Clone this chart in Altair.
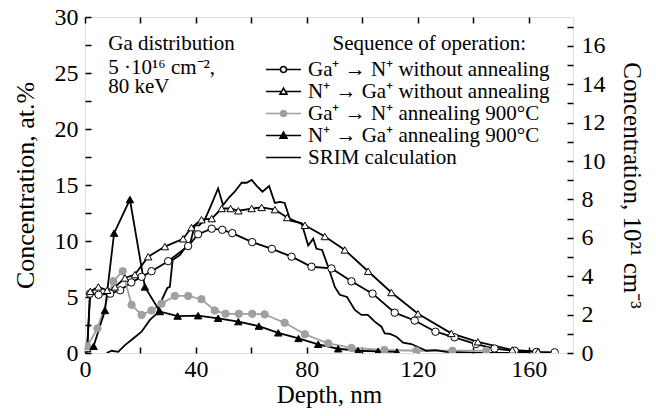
import altair as alt
import pandas as pd

FONT = "Liberation Serif"

# ---------------- data ----------------
names = [
    "Ga⁺ → N⁺ without annealing",
    "N⁺ → Ga⁺ without annealing",
    "Ga⁺ → N⁺ annealing 900°C",
    "N⁺ → Ga⁺ annealing 900°C",
    "SRIM calculation",
]

oc_x = [0.8, 1.8, 4.9, 9.1, 12.7, 16.7, 20.4, 24.0, 30.0, 37.2, 40.8, 45.7, 49.5, 53.1, 60.3, 67.4,
        74.5, 81.7, 88.9, 96.1, 103.7, 111.7, 118.9, 126.4, 133.3, 141.0, 147.7, 155.0, 162.8, 169.4]
oc_y = [0.4, 5.3, 5.2, 5.3, 5.6, 6.3, 6.8, 7.3, 8.2, 9.55, 10.6, 11.1, 11.0, 10.7, 9.9, 9.3,
        8.6, 7.7, 7.55, 6.4, 5.3, 3.6, 2.9, 1.9, 1.4, 0.8, 0.4, 0.2, 0.1, 0.06]

ot_x = [0.8, 1.9, 4.8, 8.0, 10.8, 14.4, 18.0, 22.8, 28.8, 35.4, 38.4, 42.0, 45.7, 49.3, 52.5, 55.3,
        60.1, 63.7, 68.5, 72.9, 79.3, 86.5, 93.7, 102.1, 110.5, 120.1, 132.1, 141.7, 154.1, 163.4]
ot_y = [0.4, 5.5, 5.9, 5.6, 5.9, 6.7, 7.0, 8.6, 9.5, 10.2, 11.2, 11.9, 12.0, 12.9, 12.9, 12.7,
        12.9, 13.0, 12.8, 12.1, 11.4, 10.4, 9.2, 7.3, 5.4, 3.5, 1.75, 1.0, 0.27, 0.12]

gc_x = [0.8, 4.5, 10.2, 13.6, 16.8, 20.4, 24.0, 27.6, 32.4, 37.2, 42.0, 46.8, 50.7, 55.5, 60.3, 64.8,
        72.0, 79.3, 87.7, 96.1, 108.0, 119.5, 132.5, 144.7]
gc_y = [0.6, 2.2, 6.4, 7.3, 4.3, 3.4, 3.8, 4.4, 5.1, 5.1, 4.8, 3.8, 3.5, 3.5, 3.5, 3.45,
        2.7, 1.67, 0.86, 0.45, 0.27, 0.2, 0.2, 0.2]

bt_x = [3.1, 7.2, 10.5, 16.2, 21.6, 27.0, 33.4, 40.8, 48.0, 55.3, 62.7, 69.7, 77.0, 84.1, 91.3,
        98.5, 105.7, 112.5]
bt_y = [0.6, 3.8, 10.7, 13.7, 5.9, 3.7, 3.3, 3.33, 3.1, 2.8, 2.4, 1.8, 1.3, 0.78, 0.38,
        0.2, 0.15, 0.1]

srim_x = [7.8, 9.6, 12.0, 14.4, 17.4, 20.4, 23.4, 25.8, 28.0, 29.7, 30.6, 31.6, 34.2, 36.4, 38.1,
          39.6, 41.2, 43.2, 45.5, 48.0, 49.8, 52.0, 54.0, 56.5, 58.3, 60.1, 62.0, 64.0, 66.4, 68.5,
          70.3, 72.0, 74.1, 76.0, 78.1, 80.5, 82.3, 83.5, 85.5, 87.7, 90.1, 91.9, 94.5, 97.3, 99.7,
          102.0, 104.5, 106.9, 108.1, 110.0, 112.3, 114.7, 117.7, 120.7, 123.1, 126.5, 130.3, 135.0,
          140.0, 150.0, 160.0]
srim_y = [0.0, 0.2, 0.1, 0.7, 1.3, 1.9, 2.95, 3.5, 4.9, 5.8, 5.9, 8.3, 8.75, 9.5, 9.95,
          11.4, 11.4, 11.9, 13.2, 14.7, 13.2, 13.9, 14.4, 15.2, 15.2, 15.45, 14.9, 14.4, 14.9, 13.4,
          13.5, 13.4, 11.8, 11.7, 11.6, 9.6, 10.2, 9.3, 9.2, 7.7, 5.9, 5.2, 5.0, 3.84, 3.4,
          3.4, 2.8, 2.35, 1.75, 1.7, 1.46, 0.92, 0.8, 0.47, 0.2, 0.25, 0.1, 0.05,
          0.0, 0.0, 0.0]

series_xy = [(oc_x, oc_y), (ot_x, ot_y), (gc_x, gc_y), (bt_x, bt_y), (srim_x, srim_y)]

note_lines = ["Ga distribution", "5 ·10¹⁶ cm⁻²,", "80 keV"]
note_x = [8.4, 8.4, 8.4]
note_y = [27.05, 24.9, 23.2]
legend_title = ["Sequence of operation:"]
legend_title_x = [124.2]
legend_title_y = [27.05]

x_ticks = list(range(0, 161, 20))
yl_ticks = [i * 2.5 for i in range(13)]
yr_ticks = list(range(0, 18))

# ---------------- styling ----------------
line_colors = ["black", "black", "#a0a0a0", "black", "black"]
pt_shapes = ["circle", "triangle-up", "circle", "triangle-up", "circle"]
pt_fill = ["white", "white", "#a0a0a0", "black", "black"]
pt_stroke = ["black", "black", "#a0a0a0", "black", "black"]

circ = "M0.29,0 A0.29,0.29 0 1,1 -0.29,0 A0.29,0.29 0 1,1 0.29,0 Z"
tri = "M0,-0.33 L0.33,0.25 L-0.33,0.25 Z"
seg_c = "M-1.67,0 L-0.29,0 M0.29,0 L1.67,0 "
seg_t = "M-1.67,0 L-0.22,0 M0.22,0 L1.67,0 "
leg_shapes = [seg_c + circ, seg_t + tri, seg_c + circ, seg_t + tri, "M-1.67,0 L1.67,0"]
leg_fill = ["white", "white", "#a0a0a0", "black", "transparent"]
leg_stroke = ["black", "black", "#a0a0a0", "black", "black"]

# ---------------- tables ----------------
rows = []
for name, (xs, ys) in zip(names, series_xy):
    for xv, yv in zip(xs, ys):
        rows.append({"series": name, "depth": xv, "conc": yv})
df = pd.DataFrame(rows)
df_pts = df[df["series"] != names[4]]

leg_df = pd.DataFrame({"series": names, "depth": [-10] * 5, "conc": [-10] * 5})
note_df = pd.DataFrame({"t": note_lines, "depth": note_x, "conc": note_y})
title_df = pd.DataFrame({"t": legend_title, "depth": legend_title_x, "conc": legend_title_y})
ax_df = pd.DataFrame({"depth": [-10], "conc2": [-10]})

# ---------------- encodings ----------------
tick_common = dict(domain=False, grid=False, tickColor="black", tickWidth=1.5, tickSize=6,
                   offset=-6, labelFont=FONT, labelFontSize=24, labelColor="black",
                   titleFont=FONT, titleFontWeight="normal", titleColor="black")

xenc = alt.X("depth:Q", scale=alt.Scale(domain=[0, 176], nice=False, zero=False),
             axis=alt.Axis(orient="bottom", values=x_ticks, title="Depth, nm",
                           labelExpr="datum.value % 40 == 0 ? datum.label : ''",
                           labelPadding=4, labelFlush=False, labelOverlap=False,
                           titleFontSize=25, titleBaseline="alphabetic", titleY=55,
                           **tick_common))
yenc = alt.Y("conc:Q", scale=alt.Scale(domain=[0, 30], nice=False),
             axis=alt.Axis(orient="left", values=yl_ticks, title="Concentration, at.%",
                           labelExpr="datum.value % 5 == 0 ? datum.label : ''",
                           labelPadding=7, titlePadding=16, labelFlush=False, labelOverlap=False,
                           titleFontSize=26, **tick_common))

lines = alt.Chart(df).mark_line(clip=True, strokeWidth=1.8).encode(
    x=xenc, y=yenc, detail="series:N", order="depth:Q",
    color=alt.Color("series:N", scale=alt.Scale(domain=names, range=line_colors), legend=None),
)

pts = alt.Chart(df_pts).mark_point(filled=True, opacity=1, size=55, strokeWidth=1, clip=True).encode(
    x=xenc, y=yenc,
    shape=alt.Shape("series:N", scale=alt.Scale(domain=names, range=pt_shapes), legend=None),
    fill=alt.Fill("series:N", scale=alt.Scale(domain=names, range=pt_fill), legend=None),
    stroke=alt.Stroke("series:N", scale=alt.Scale(domain=names, range=pt_stroke), legend=None),
)

leg = alt.Legend(orient="none", legendX=187, legendY=41, title=None, symbolSize=441,
                 symbolStrokeWidth=1.6, symbolOpacity=1, labelFont=FONT, labelFontSize=21,
                 labelColor="black", labelOffset=13, rowPadding=0, padding=0,
                 labelLimit=400)
legend_layer = alt.Chart(leg_df).mark_point(filled=True, clip=True).encode(
    x=xenc, y=yenc,
    shape=alt.Shape("series:N", scale=alt.Scale(domain=names, range=leg_shapes), legend=leg, sort=None),
    fill=alt.Fill("series:N", scale=alt.Scale(domain=names, range=leg_fill), legend=leg, sort=None),
    stroke=alt.Stroke("series:N", scale=alt.Scale(domain=names, range=leg_stroke), legend=leg, sort=None),
)

notes = alt.Chart(note_df).mark_text(align="left", baseline="alphabetic", font=FONT, fontSize=21,
                                     color="black").encode(x=xenc, y=yenc, text="t:N")
ltitle = alt.Chart(title_df).mark_text(align="center", baseline="alphabetic", font=FONT, fontSize=21,
                                       color="black").encode(x=xenc, y=yenc, text="t:N")

inner = alt.layer(lines, pts, legend_layer, notes, ltitle).resolve_scale(
    shape="independent", fill="independent", stroke="independent")

axes_layer = alt.Chart(ax_df).mark_point(clip=True, opacity=0).encode(
    x=alt.X("depth:Q", scale=alt.Scale(domain=[0, 176], nice=False, zero=False),
            axis=alt.Axis(orient="top", values=x_ticks, labels=False, title=None, **tick_common)),
    y=alt.Y("conc2:Q", scale=alt.Scale(domain=[0, 17.5], nice=False),
            axis=alt.Axis(orient="right", values=yr_ticks, title="Concentration, 10²¹ cm⁻³",
                          labelExpr="datum.value % 2 == 0 ? datum.label : ''",
                          labelPadding=8, titlePadding=13, labelFlush=False, labelOverlap=False,
                          titleFontSize=25, **tick_common)),
)

chart = alt.layer(inner, axes_layer).resolve_scale(x="independent", y="independent").properties(
    width=488, height=336,
    autosize=alt.AutoSizeParams(type="none"),
    padding={"left": 77, "top": 9, "right": 75, "bottom": 55},
).configure_view(stroke="black", strokeWidth=2).configure(font=FONT, background="white")

chart.save("out.html", embed_options={"renderer": "svg", "actions": False})
